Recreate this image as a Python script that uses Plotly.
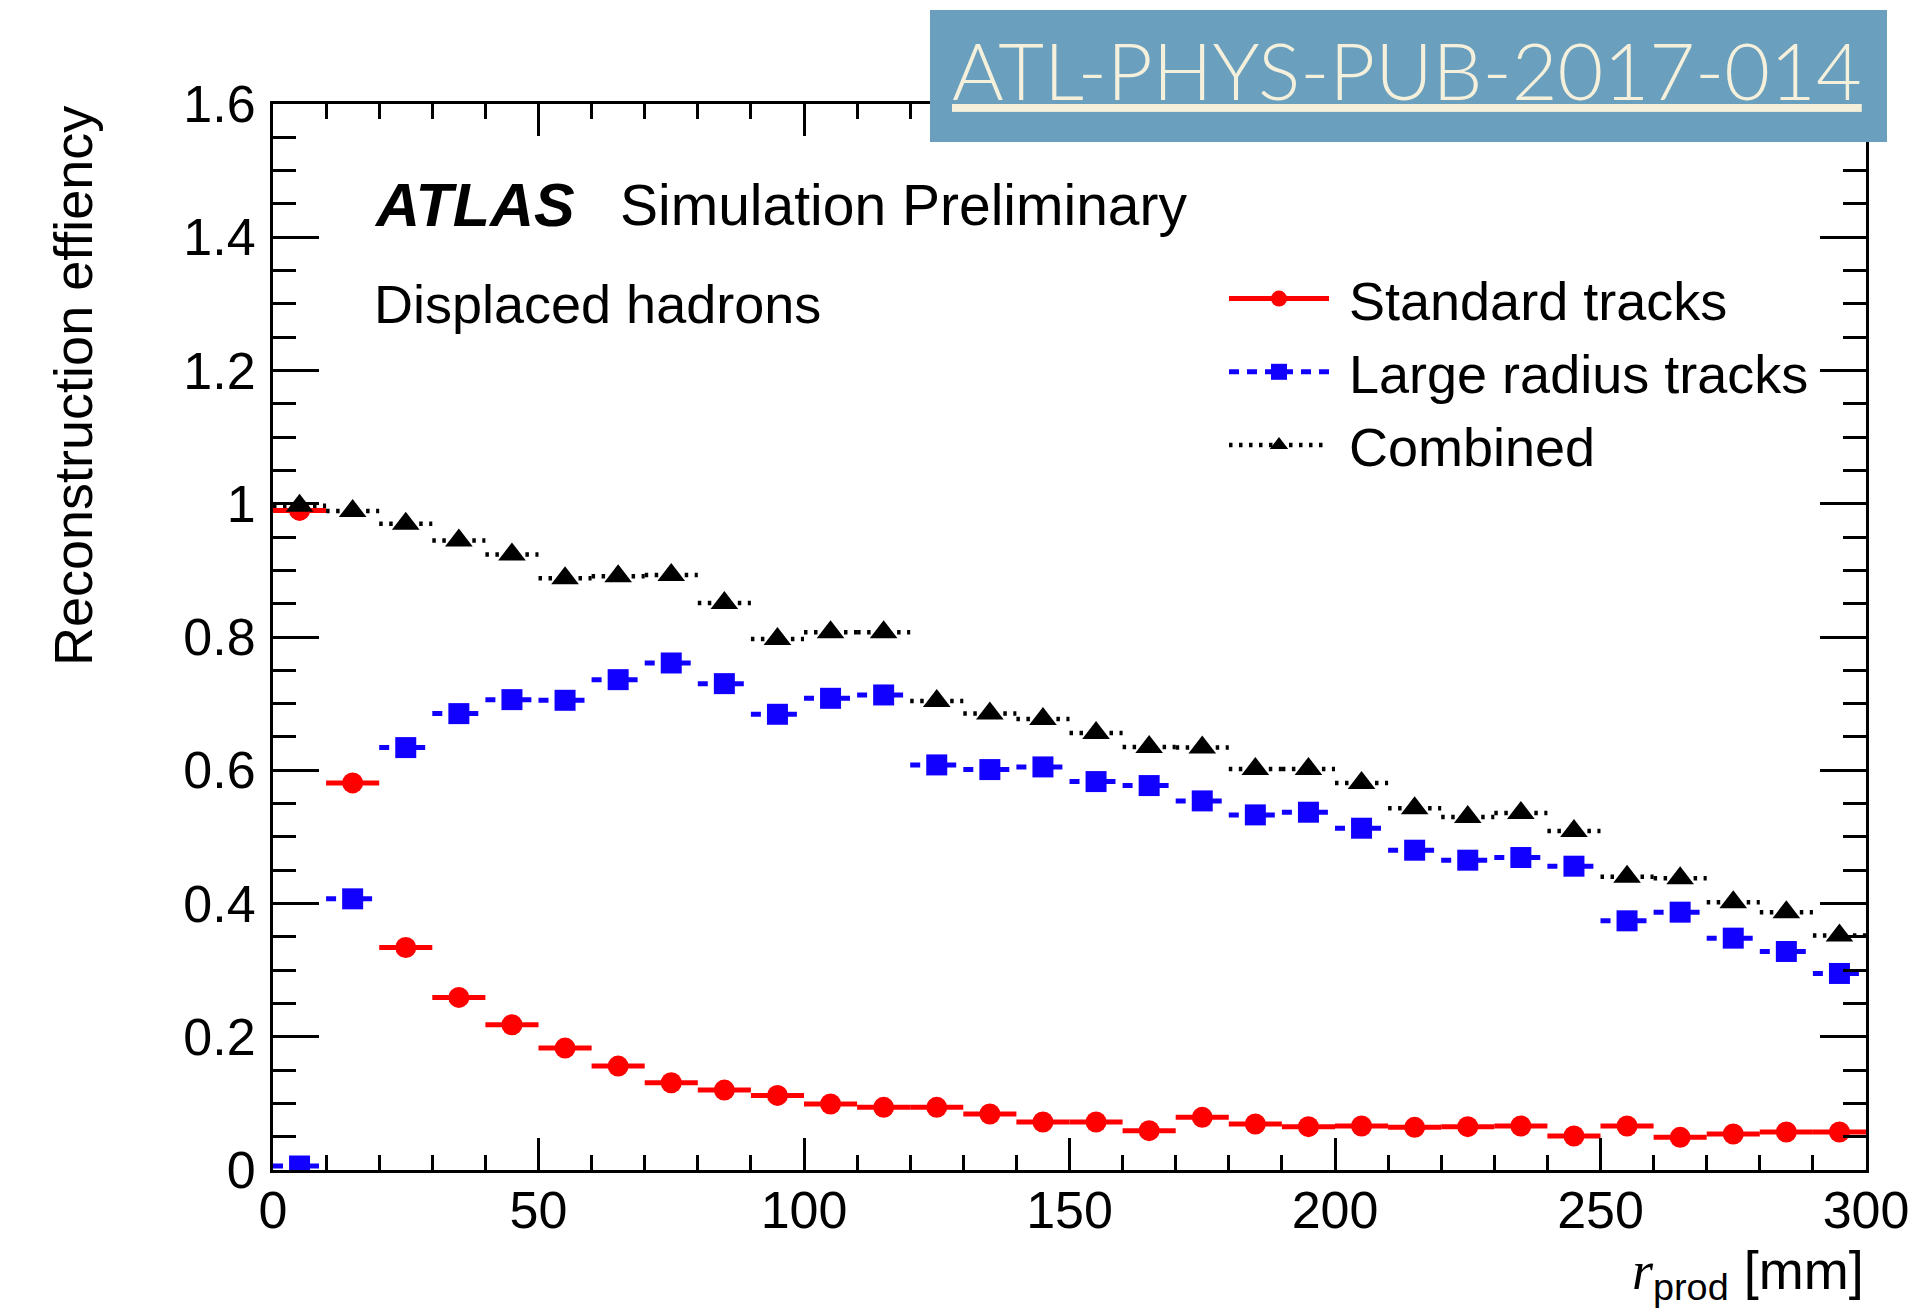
import plotly.graph_objects as go

# Production-radius bins [mm]
bin_edges = list(range(0, 301, 10))

# Reconstruction efficiency per bin
standard_tracks = [0.990, 0.581, 0.334, 0.259, 0.218, 0.183, 0.156, 0.131, 0.120, 0.112,
                   0.099, 0.094, 0.094, 0.084, 0.072, 0.072, 0.059, 0.079, 0.069, 0.065,
                   0.066, 0.064, 0.065, 0.066, 0.051, 0.066, 0.049, 0.054, 0.057, 0.057]
large_radius_tracks = [0.006, 0.407, 0.634, 0.685, 0.706, 0.705, 0.736, 0.761, 0.730, 0.684,
                       0.708, 0.713, 0.608, 0.601, 0.605, 0.583, 0.577, 0.554, 0.533, 0.537,
                       0.513, 0.480, 0.465, 0.469, 0.456, 0.374, 0.387, 0.348, 0.328, 0.295]
combined_tracks = [0.997, 0.989, 0.970, 0.945, 0.924, 0.888, 0.891, 0.893, 0.851, 0.797,
                   0.807, 0.807, 0.704, 0.685, 0.677, 0.656, 0.635, 0.634, 0.602, 0.602,
                   0.581, 0.543, 0.530, 0.536, 0.509, 0.440, 0.438, 0.402, 0.387, 0.352]

series_names = ["Standard tracks", "Large radius tracks", "Combined"]

W, H = 1911, 1309
FRAME_L, FRAME_R, FRAME_T, FRAME_B = 273, 1866, 104, 1170
FONT = "Liberation Sans, Arial, Helvetica, sans-serif"


def paper_x(px):
    return (px - FRAME_L) / (FRAME_R - FRAME_L)


def paper_y(py):
    return (FRAME_B - py) / (FRAME_B - FRAME_T)


def binned(values, symbol):
    """Horizontal bin-width bar per bin with the marker at the bin centre."""
    xs, ys, syms = [None], [None], [symbol]
    for lo, hi, v in zip(bin_edges[:-1], bin_edges[1:], values):
        xs += [lo, (lo + hi) / 2, hi, None]
        ys += [v, v, v, None]
        syms += ["line-ew", symbol, "line-ew", "line-ew"]
    return xs, ys, syms


styles = [
    dict(values=standard_tracks, color="#ff0000", symbol="circle", size=21,
         width=5, dash="solid"),
    dict(values=large_radius_tracks, color="#1200ff", symbol="square", size=21,
         width=5, dash="10px,8px"),
    dict(values=combined_tracks, color="#000000", symbol="triangle-up", size=24,
         width=4.5, dash="3.5px,6.5px"),
]

fig = go.Figure()
for name, st in zip(series_names, styles):
    xs, ys, syms = binned(st["values"], st["symbol"])
    fig.add_trace(go.Scatter(
        x=xs, y=ys, name="\u00a0" + name, mode="lines+markers",
        line=dict(color=st["color"], width=st["width"], dash=st["dash"]),
        marker=dict(symbol=syms, size=st["size"], color=st["color"],
                    line=dict(width=0)),
        connectgaps=False, hoverinfo="skip",
    ))

axis_common = dict(
    showgrid=False, zeroline=False, showline=True, linecolor="black", linewidth=3,
    mirror="ticks", ticks="inside", tickcolor="black", tickwidth=3, automargin=False,
    tickfont=dict(family=FONT, size=52, color="black"),
)

fig.update_xaxes(range=[0, 300], tick0=0, dtick=50, ticklen=32, ticklabelstandoff=-7,
                 minor=dict(dtick=10, ticklen=15, tickwidth=3, tickcolor="black",
                            ticks="inside"),
                 **axis_common)
fig.update_yaxes(range=[0, 1.6], tick0=0, dtick=0.2, ticklen=46, ticklabelstandoff=4,
                 minor=dict(dtick=0.05, ticklen=23, tickwidth=3, tickcolor="black",
                            ticks="inside"),
                 **axis_common)

annotations = [
    dict(text="<b><i>ATLAS</i></b>", x=paper_x(372), y=paper_y(205),
         xanchor="left", yanchor="middle", font=dict(size=61)),
    dict(text="Simulation Preliminary", x=paper_x(618), y=paper_y(205),
         xanchor="left", yanchor="middle", font=dict(size=57)),
    dict(text="Displaced hadrons", x=paper_x(372), y=paper_y(304),
         xanchor="left", yanchor="middle", font=dict(size=54)),
    dict(text="Reconstruction effiency", x=paper_x(73), y=1.0, textangle=-90,
         xanchor="center", yanchor="top", font=dict(size=54)),
    dict(text="<span style=\"font-family:'Liberation Serif'\"><i>r</i></span>"
              "<sub>prod</sub> [mm]",
         x=1.0, y=paper_y(1238), xanchor="right", yanchor="top",
         font=dict(size=54)),
    dict(text="<u>ATL-PHYS-PUB-2017-014</u>", x=paper_x(950), y=paper_y(70),
         xanchor="left", yanchor="middle",
         font=dict(family="Lato, 'Open Sans', sans-serif", size=79,
                   color="#f4f0dc", weight=300)),
]
for a in annotations:
    a.update(xref="paper", yref="paper", showarrow=False)
    a["font"].setdefault("family", FONT)
    a["font"].setdefault("color", "black")

fig.update_layout(
    width=W, height=H,
    margin=dict(l=FRAME_L, r=W - FRAME_R, t=FRAME_T, b=H - FRAME_B, pad=0),
    paper_bgcolor="white", plot_bgcolor="white",
    font=dict(family=FONT, color="black"),
    annotations=annotations,
    shapes=[dict(type="rect", xref="paper", yref="paper", layer="above",
                 x0=paper_x(930), x1=paper_x(1887), y0=paper_y(142), y1=paper_y(10),
                 fillcolor="#6a9fbe", line=dict(width=0))],
    legend=dict(x=paper_x(1224), y=paper_y(257), xanchor="left", yanchor="top",
                font=dict(family=FONT, size=54, color="black"), itemwidth=100,
                bgcolor="rgba(0,0,0,0)", itemsizing="trace", tracegroupgap=0),
    showlegend=True,
)

fig.write_html("out.html", config={"displayModeBar": False})
